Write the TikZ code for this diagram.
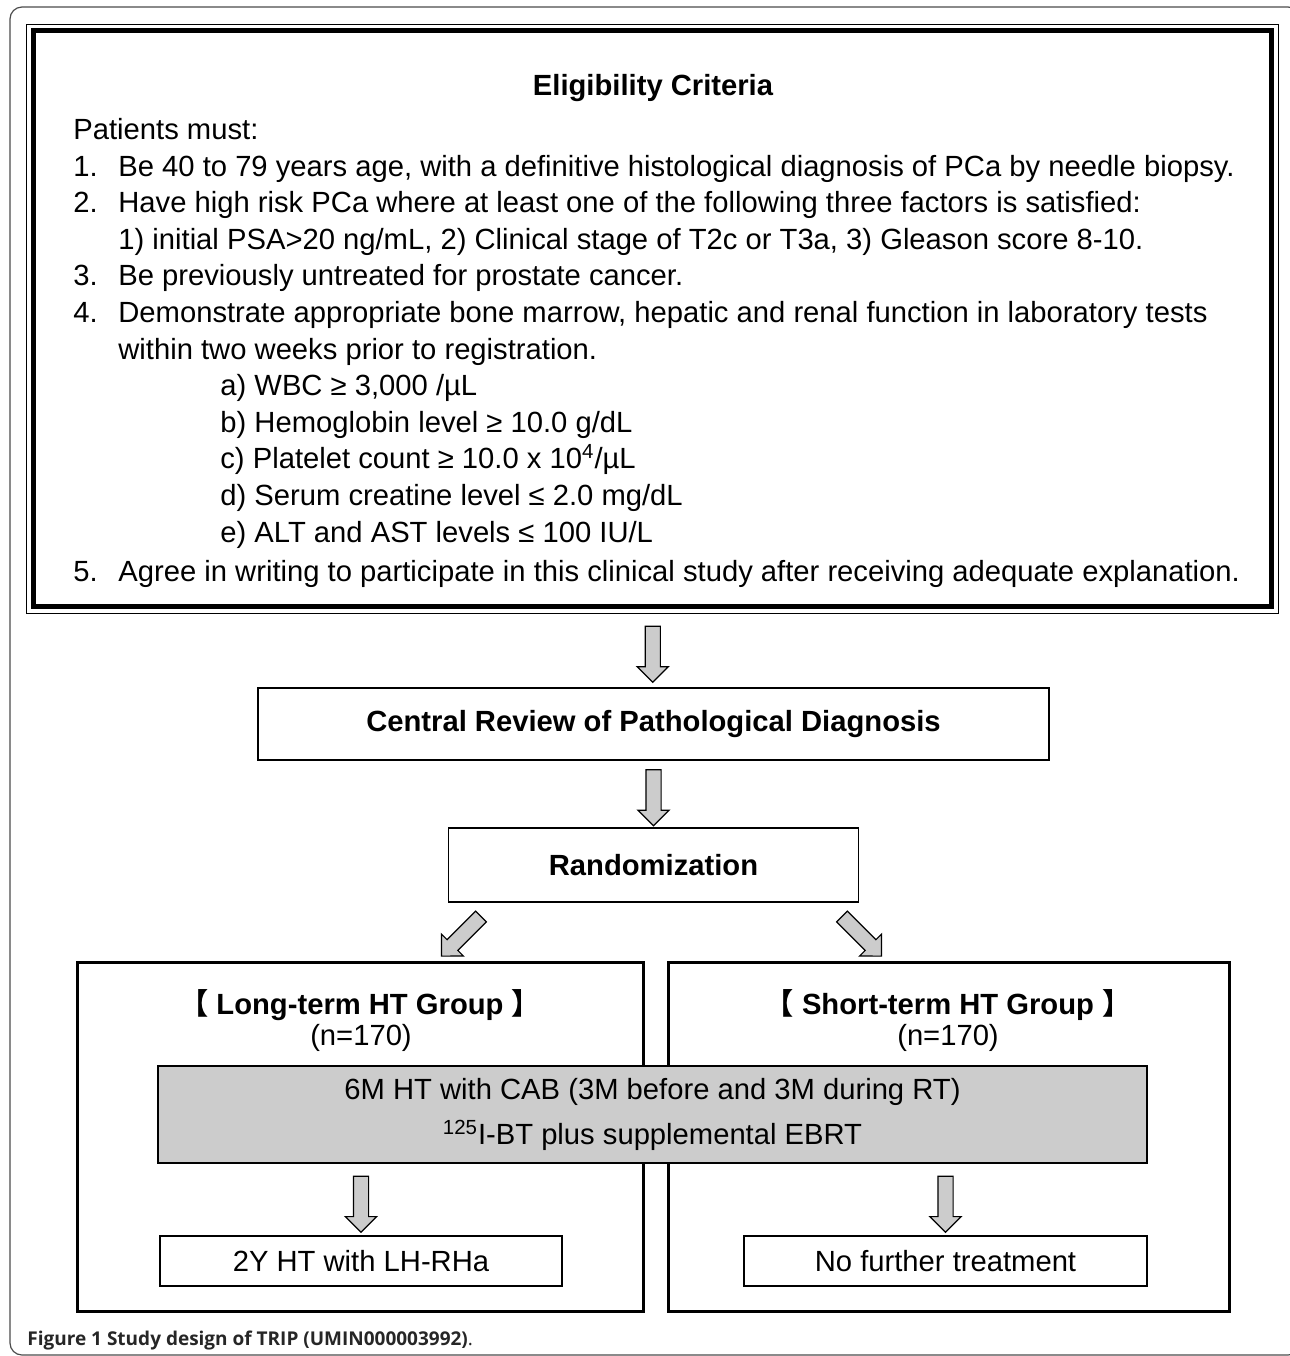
\documentclass[tikz,border=0pt]{standalone}
\usepackage{fontspec}
\setmainfont{Liberation Sans}
\newfontfamily\capfont{Open Sans}
\newfontfamily\cjkfont{Noto Sans CJK JP}
\usetikzlibrary{shapes.arrows,positioning,calc}

\tikzset{
  box/.style={draw, line width=0.6pt, inner sep=0pt, align=center,
    font=\fontsize{14.6}{18.3}\selectfont},
  groupbox/.style={draw, line width=1.5pt, inner sep=0pt},
  blockarrow/.style={single arrow, draw, fill=gray!40, line width=0.6pt,
    minimum height=28pt, minimum width=15pt, single arrow head extend=4pt,
    single arrow head indent=0pt, inner sep=3.5pt},
  crittext/.style={inner sep=0pt, align=left, font=\fontsize{14.6}{18.3}\selectfont},
}
\newcommand{\numitem}[1]{\makebox[22.5pt][l]{#1}}
\newcommand{\lb}{{\cjkfont 【}}
\newcommand{\rb}{{\cjkfont 】}}

\begin{document}
\begin{tikzpicture}[x=0.5pt, y=-0.5pt]
    \useasboundingbox (0,0) rectangle (1290,1356);
    % outer frame of the figure
    \draw[gray!60!black, line width=0.6pt, rounded corners=6pt] (10,7) rectangle (1300,1355);

    % eligibility box
    \node[draw, line width=0.5pt, minimum width=626pt, minimum height=294.5pt, inner sep=0pt] (elig) at (652,318.5) {};
    \draw[line width=2.5pt] ([shift={(8,7)}]elig.north west) rectangle ([shift={(-7,-7)}]elig.south east);
    \node[crittext, font=\fontsize{14.6}{18.3}\selectfont\bfseries] (eltitle) at (653,88) {Eligibility Criteria};
    \node[crittext, anchor=north west] (crit) at (73,118) {Patients must:\\
      \numitem{1.}Be 40 to 79 years age, with a definitive histological diagnosis of PCa by needle biopsy.\\
      \numitem{2.}Have high risk PCa where at least one of the following three factors is satisfied:\\
      \hspace*{22.5pt}1) initial PSA>20 ng/mL, 2) Clinical stage of T2c or T3a, 3) Gleason score 8-10.\\
      \numitem{3.}Be previously untreated for prostate cancer.\\
      \numitem{4.}Demonstrate appropriate bone marrow, hepatic and renal function in laboratory tests\\
      \hspace*{22.5pt}within two weeks prior to registration.\\
      \hspace*{73.5pt}a) WBC ≥ 3,000 /µL\\
      \hspace*{73.5pt}b) Hemoglobin level ≥ 10.0 g/dL\\
      \hspace*{73.5pt}c) Platelet count ≥ 10.0 x 10\textsuperscript{4}/µL\\
      \hspace*{73.5pt}d) Serum creatine level ≤ 2.0 mg/dL\\
      \hspace*{73.5pt}e) ALT and AST levels ≤ 100 IU/L\\[1.5pt]
      \numitem{5.}Agree in writing to participate in this clinical study after receiving adequate explanation.};

    % review and randomization
    \node[box, minimum width=395.5pt, minimum height=36pt, font=\fontsize{14.6}{18.3}\selectfont\bfseries] (review) at (653.5,724) {Central Review of Pathological Diagnosis};
    \node[box, minimum width=205pt, minimum height=37pt, font=\fontsize{14.6}{18.3}\selectfont\bfseries] (rand) at (653.5,865) {Randomization};

    \node[blockarrow, rotate=-90] (a1) at ($(elig.south)!0.5!(review.north)$) {};
    \node[blockarrow, rotate=-90] (a2) at ($(review.south)!0.5!(rand.north)$) {};

    % the two groups
    \node[groupbox, minimum width=283pt, minimum height=174.5pt] (long) at (360,1136.5) {};
    \node[groupbox, minimum width=280.5pt, minimum height=174.5pt] (short) at (948.5,1136.5) {};
    \node[blockarrow, rotate=-135] (a3) at ($(rand.south west)+(16,31)$) {};
    \node[blockarrow, rotate=-45] (a4) at ($(rand.south east)+(0,31)$) {};

    \node[crittext, font=\fontsize{14.6}{18.3}\selectfont\bfseries] (longtitle) at (360,1005) {\lb\ Long-term HT Group \rb};
    \node[crittext] (longn) at (361,1038) {(n=170)};
    \node[crittext, font=\fontsize{14.6}{18.3}\selectfont\bfseries] (shorttitle) at (948,1005) {\lb\ Short-term HT Group \rb};
    \node[crittext] (shortn) at (948,1038) {(n=170)};

    % common treatment
    \node[box, fill=gray!40, minimum width=494.5pt, minimum height=48.5pt, font=\fontsize{14.6}{22.5}\selectfont] (cab) at (652.5,1114.5)
      {6M HT with CAB (3M before and 3M during RT)\\\textsuperscript{125}I-BT plus supplemental EBRT};

    % after treatment
    \node[box, minimum width=201pt, minimum height=25pt] (lht) at (361,1261) {2Y HT with LH-RHa};
    \node[box, minimum width=201.5pt, minimum height=25pt] (nft) at (945.5,1261) {No further treatment};
    \node[blockarrow, rotate=-90] (a5) at ($(lht.north)+(0,-35)$) {};
    \node[blockarrow, rotate=-90] (a6) at ($(nft.north)+(0,-35)$) {};

    % caption
    \node[anchor=base west, inner sep=0pt, text=black!85, font=\capfont\fontsize{9.5}{11}\selectfont] (caption) at (27,1345)
      {\textbf{Figure 1 Study design of TRIP (UMIN000003992)}.};
\end{tikzpicture}
\end{document}
